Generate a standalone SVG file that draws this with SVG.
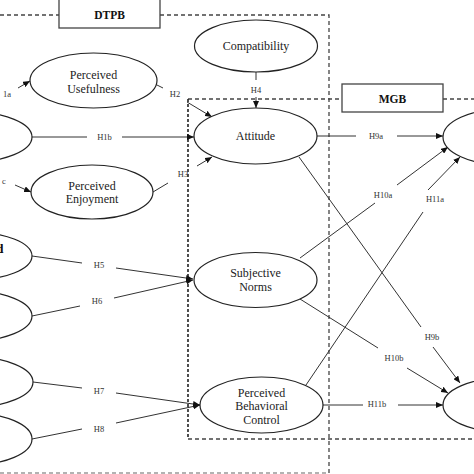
<svg xmlns="http://www.w3.org/2000/svg" width="474" height="474" viewBox="0 0 474 474">
<defs>
<marker id="arr" markerUnits="userSpaceOnUse" markerWidth="8" markerHeight="6" refX="7" refY="3" orient="auto">
<path d="M0,0 L7,3 L0,6 z" fill="#111"/>
</marker>
<style>
.n{fill:#fff;stroke:#222;stroke-width:1.2}
.t{font-family:"Liberation Serif","Times New Roman",serif;font-size:12px;fill:#222;text-anchor:middle}
.h{font-family:"Liberation Serif","Times New Roman",serif;font-size:8.5px;fill:#333;text-anchor:middle}
.b{font-family:"Liberation Serif","Times New Roman",serif;font-size:11.5px;font-weight:bold;fill:#111;text-anchor:middle}
.d{fill:none;stroke:#444;stroke-width:1.3;stroke-dasharray:4 3}
.c line{stroke:#333;stroke-width:1}
.a{marker-end:url(#arr)}
.lb{fill:#fff;stroke:#444;stroke-width:1.3}
</style>
</defs>
<rect width="474" height="474" fill="#fff"/>

<g id="frames">
<path class="d" d="M0,15 H59 M160,15 H329 V473"/>
<path class="d" style="stroke:#999" d="M0,473 H329"/>
<path class="d" d="M188,99 H342 M443,99 H474 M188,439 H474"/>
<path class="d" style="stroke:#222;stroke-width:1.6;stroke-dasharray:3 2" d="M188,99 V439"/>
</g>

<g id="dtpb-label"><rect class="lb" x="59" y="-2" width="101" height="30"/><text class="b" x="109.5" y="19">DTPB</text></g>
<g id="mgb-label"><rect class="lb" x="342" y="84" width="101" height="28"/><text class="b" x="392.5" y="103">MGB</text></g>

<g class="c" id="connectors">
<line class="a" x1="18" y1="88" x2="30" y2="81"/>
<text class="h" x="3" y="97" style="text-anchor:start">1a</text>
<line class="a" x1="15" y1="185" x2="31" y2="192"/>
<text class="h" x="2" y="184" style="text-anchor:start">c</text>
<line x1="32" y1="137" x2="87" y2="137"/><line class="a" x1="122" y1="137" x2="194" y2="137"/>
<text class="h" x="104.5" y="140">H1b</text>
<line x1="155" y1="84" x2="163" y2="88"/><line class="a" x1="187" y1="102" x2="212" y2="117"/>
<text class="h" x="175" y="97">H2</text>
<line x1="153" y1="192" x2="168" y2="183"/><line class="a" x1="197" y1="166" x2="212" y2="157"/>
<text class="h" x="183" y="177">H3</text>
<line x1="256" y1="72" x2="256" y2="80"/><line class="a" x1="256" y1="97" x2="256" y2="108"/>
<text class="h" x="256" y="93">H4</text>
<line x1="32" y1="256" x2="82" y2="263"/><line class="a" x1="116" y1="268" x2="193" y2="279"/>
<text class="h" x="99" y="268">H5</text>
<line x1="32" y1="316" x2="80" y2="306"/><line class="a" x1="114" y1="298" x2="193" y2="280"/>
<text class="h" x="97" y="304">H6</text>
<line x1="33" y1="382" x2="82" y2="388"/><line class="a" x1="116" y1="393" x2="200" y2="405"/>
<text class="h" x="99" y="394">H7</text>
<line x1="32" y1="439" x2="82" y2="429"/><line class="a" x1="116" y1="423" x2="200" y2="405"/>
<text class="h" x="99" y="432">H8</text>
<line x1="317" y1="136" x2="356" y2="136"/><line class="a" x1="397" y1="136" x2="443" y2="136"/>
<text class="h" x="376" y="139">H9a</text>
<line x1="299" y1="157" x2="421" y2="327"/><line class="a" x1="433" y1="347" x2="460" y2="383"/>
<text class="h" x="432" y="340">H9b</text>
<line x1="300" y1="258" x2="375" y2="203"/><line class="a" x1="397" y1="185" x2="448" y2="147"/>
<text class="h" x="383" y="198">H10a</text>
<line x1="300" y1="299" x2="378" y2="348"/><line class="a" x1="407" y1="368" x2="448" y2="393"/>
<text class="h" x="394" y="361">H10b</text>
<line x1="306" y1="385" x2="423" y2="212"/><line class="a" x1="428" y1="190" x2="460" y2="157"/>
<text class="h" x="435" y="202">H11a</text>
<line x1="323" y1="405" x2="363" y2="405"/><line class="a" x1="398" y1="405" x2="443" y2="405"/>
<text class="h" x="377" y="407">H11b</text>
</g>

<g id="compatibility"><ellipse class="n" cx="256" cy="46" rx="61.5" ry="26"/><text class="t" x="256" y="50">Compatibility</text></g>
<g id="perceived-usefulness"><ellipse class="n" cx="93.5" cy="80.5" rx="63.5" ry="27.5"/><text class="t" x="93.5" y="79">Perceived</text><text class="t" x="93.5" y="93">Usefulness</text></g>
<g id="perceived-enjoyment"><ellipse class="n" cx="92" cy="192" rx="61" ry="27"/><text class="t" x="92" y="190">Perceived</text><text class="t" x="92" y="203">Enjoyment</text></g>
<g id="attitude"><ellipse class="n" cx="255.5" cy="136" rx="61.5" ry="28"/><text class="t" x="255.5" y="140">Attitude</text></g>
<g id="subjective-norms"><ellipse class="n" cx="255.5" cy="280" rx="61.5" ry="27.5"/><text class="t" x="255.5" y="277">Subjective</text><text class="t" x="255.5" y="291">Norms</text></g>
<g id="pbc"><ellipse class="n" cx="261.5" cy="405" rx="61.5" ry="28"/><text class="t" x="261.5" y="397">Perceived</text><text class="t" x="261.5" y="410">Behavioral</text><text class="t" x="261.5" y="424">Control</text></g>
<g id="left-1"><ellipse class="n" cx="-29" cy="137" rx="61" ry="25"/></g>
<g id="left-2"><ellipse class="n" cx="-29" cy="256" rx="61" ry="24"/><text class="b" x="3.5" y="253" style="text-anchor:end;font-size:13px">d</text></g>
<g id="left-3"><ellipse class="n" cx="-29" cy="316" rx="61" ry="25"/></g>
<g id="left-4"><ellipse class="n" cx="-28" cy="382" rx="61" ry="25"/></g>
<g id="left-5"><ellipse class="n" cx="-29" cy="439" rx="61" ry="26"/></g>
<g id="right-1"><ellipse class="n" cx="504" cy="137" rx="61" ry="28"/></g>
<g id="right-2"><ellipse class="n" cx="504" cy="405" rx="61" ry="27"/></g>
</svg>
